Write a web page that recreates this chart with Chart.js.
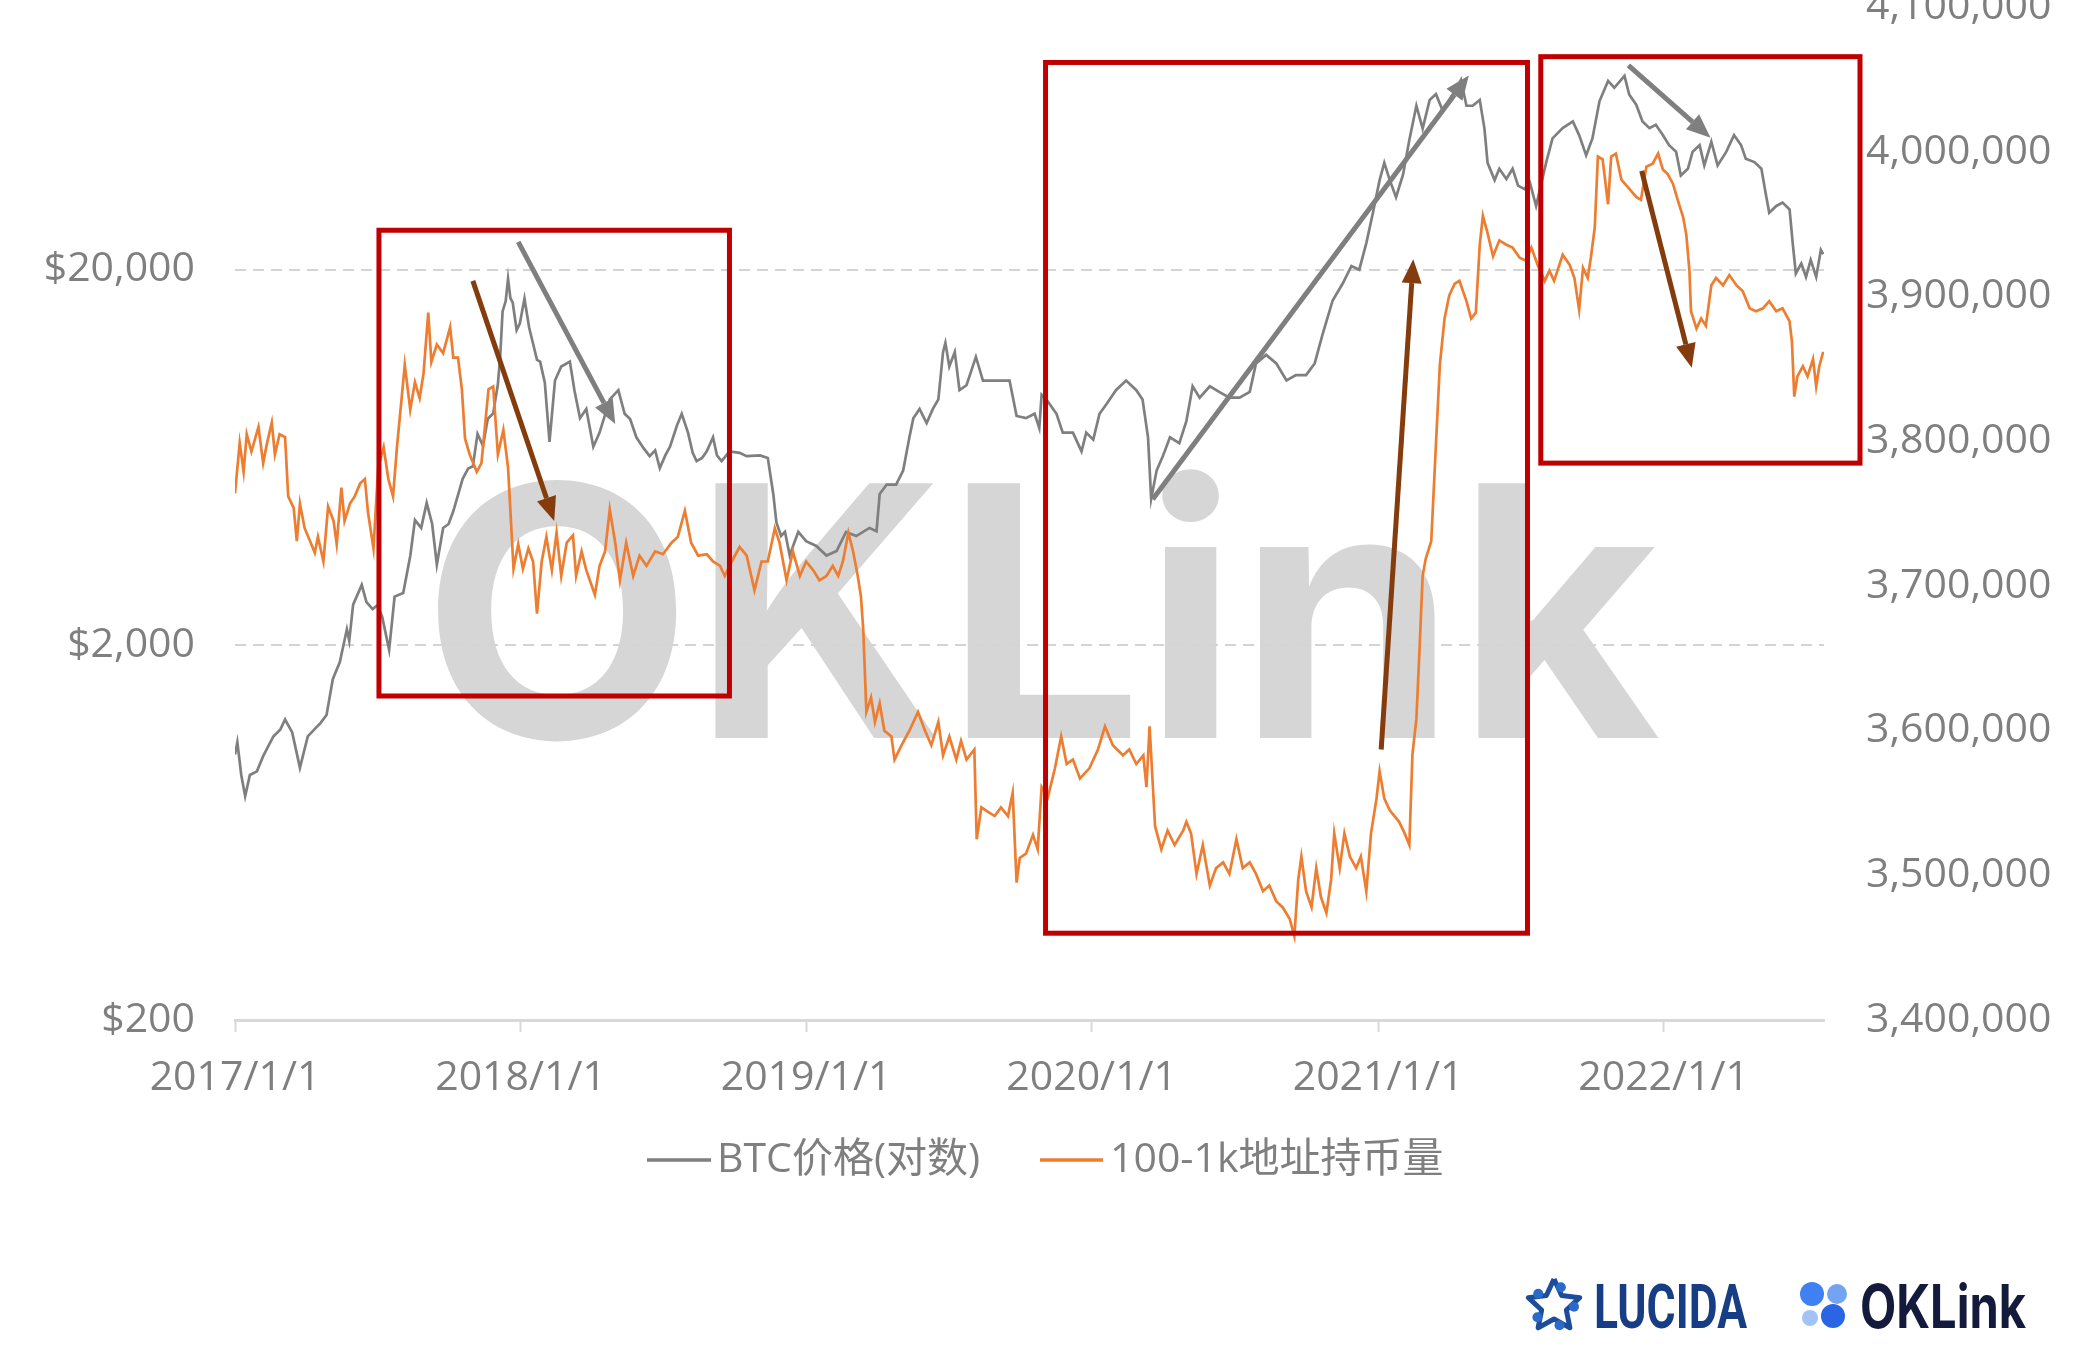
<!DOCTYPE html>
<html>
<head>
<meta charset="utf-8">
<title>BTC价格与100-1k地址持币量</title>
<script src="https://cdn.jsdelivr.net/npm/chart.js@4.4.0/dist/chart.umd.min.js"></script>
<style>
  html, body { margin: 0; padding: 0; background: #fff; overflow: hidden; }
  /* the source image is cropped at the top, so the canvas is pushed up a little */
  #wrap { position: absolute; left: 0; top: -40px; width: 2083px; height: 1410px; }
</style>
</head>
<body>
<div id="wrap"><canvas id="chart"></canvas></div>
<script>
(function () {
  'use strict';

  // x values are days since 2017-01-01
  const xTickDays = [0, 365, 730, 1095, 1461, 1826];
  const xTickLabels = ['2017/1/1', '2018/1/1', '2019/1/1', '2020/1/1', '2021/1/1', '2022/1/1'];
  const priceTicks = [200, 2000, 20000];
  const holdingTicks = [3400000, 3500000, 3600000, 3700000, 3800000, 3900000, 4000000, 4100000];

  // BTC price, USD (log axis) : [day, price]
  const btcPrice = [
    [0,1020],[3,1100],[8,900],[13,790],[19,900],[28,920],[36,1010],[49,1140],[58,1190],[64,1265],
    [73,1170],[78,1050],[83,940],[93,1140],[103,1200],[109,1235],[117,1300],[125,1620],[134,1800],
    [143,2200],[146,2050],[151,2560],[162,2890],[168,2600],[176,2490],[182,2550],[188,2380],[197,1940],
    [204,2690],[215,2750],[224,3450],[230,4300],[238,4100],[245,4780],[252,4200],[258,3270],[266,4100],
    [273,4200],[279,4540],[291,5540],[298,5900],[304,5980],[310,7300],[317,6790],[323,8000],[330,8280],
    [336,9900],[339,11760],[342,15480],[346,16500],[349,18920],[352,16800],[355,16330],[360,13800],
    [364,14360],[370,16740],[376,14000],[381,12700],[386,11500],[390,11380],[396,10000],[402,6950],
    [409,10130],[417,11040],[428,11380],[434,9500],[441,8040],[449,8510],[458,6750],[466,7360],[479,9020],
    [490,9550],[498,8260],[505,8000],[513,7150],[522,6700],[530,6370],[537,6600],[543,5920],[550,6400],
    [556,6750],[565,7700],[571,8260],[579,7360],[585,6500],[590,6180],[597,6300],[603,6560],[611,7150],
    [616,6400],[622,6180],[632,6560],[645,6500],[654,6370],[671,6400],[681,6300],[688,5050],[692,4240],
    [698,3900],[703,4000],[709,3460],[716,3800],[720,4000],[730,3780],[743,3670],[756,3460],[769,3560],
    [781,4000],[794,3900],[811,4100],[820,4020],[824,5050],[833,5350],[845,5350],[854,5830],[862,7150],
    [867,8040],[875,8510],[884,7800],[892,8510],[899,9020],[905,12060],[908,12770],[913,11040],[920,12060],
    [926,9550],[935,9840],[947,11710],[956,10130],[969,10130],[977,10130],[990,10130],[999,8150],
    [1011,8040],[1022,8260],[1028,7570],[1031,9280],[1037,9020],[1050,8260],[1058,7360],[1071,7360],
    [1082,6560],[1088,7360],[1097,7050],[1105,8260],[1114,8770],[1126,9550],[1139,10130],[1152,9550],
    [1160,9020],[1167,7150],[1171,4900],[1178,5830],[1186,6370],[1195,7150],[1207,6900],[1216,7900],
    [1220,8770],[1224,9780],[1233,9120],[1246,9780],[1258,9450],[1271,9120],[1284,9120],[1297,9450],
    [1305,11250],[1318,11860],[1331,11250],[1344,10130],[1356,10470],[1369,10470],[1380,11250],
    [1390,13420],[1403,16560],[1416,18400],[1427,20460],[1437,20000],[1446,23550],[1454,28060],
    [1463,34660],[1469,38540],[1476,34660],[1484,31200],[1493,35900],[1501,44360],[1510,54720],
    [1518,47560],[1527,56700],[1535,58760],[1544,52860],[1552,56700],[1561,60820],[1567,64130],
    [1574,54720],[1582,54720],[1591,56700],[1597,47560],[1601,38540],[1610,34660],[1616,37160],
    [1625,34910],[1633,37160],[1640,33500],[1648,32810],[1655,34200],[1663,29580],[1676,38720],
    [1684,44780],[1697,47680],[1710,49680],[1718,45700],[1727,40360],[1735,44780],[1744,56240],
    [1755,63720],[1763,61100],[1776,65700],[1782,58640],[1791,55080],[1799,49680],[1808,47680],
    [1816,48660],[1825,45700],[1833,42960],[1842,41220],[1848,35640],[1857,37160],[1863,41220],
    [1872,42960],[1878,37940],[1887,43860],[1895,37940],[1906,41220],[1916,45700],[1925,42960],
    [1931,39540],[1942,38720],[1951,37160],[1957,31480],[1961,28380],[1970,29580],[1978,30200],
    [1987,28950],[1991,23560],[1995,19540],[2002,20780],[2008,19140],[2014,21240],[2021,19140],
    [2027,22580],[2030,22000]
  ];

  // BTC held by 100-1k addresses : [day, amount]
  const holdings = [
    [0,3764000],[6,3799000],[11,3779000],[15,3805000],[21,3793000],[30,3810000],[36,3785000],[41,3799000],
    [47,3813000],[51,3791000],[57,3805000],[64,3803000],[68,3762000],[75,3754000],[79,3731000],[83,3757000],
    [89,3740000],[96,3731000],[102,3723000],[106,3734000],[113,3717000],[119,3755000],[126,3745000],
    [130,3729000],[136,3768000],[140,3745000],[147,3757000],[153,3762000],[160,3771000],[166,3774000],
    [170,3751000],[177,3726000],[183,3782000],[190,3796000],[196,3774000],[202,3762000],[207,3796000],
    [213,3830000],[217,3853000],[224,3822000],[230,3841000],[236,3830000],[241,3847000],[247,3889000],
    [251,3855000],[258,3867000],[266,3861000],[275,3879000],[279,3858000],[285,3858000],[290,3836000],
    [294,3802000],[300,3791000],[309,3779000],[315,3785000],[324,3836000],[330,3838000],[336,3791000],
    [343,3808000],[349,3782000],[356,3712000],[362,3729000],[368,3712000],[375,3726000],[381,3717000],
    [386,3681000],[392,3717000],[398,3734000],[405,3711000],[411,3737000],[417,3707000],[424,3730000],
    [432,3735000],[436,3707000],[443,3724000],[449,3711000],[460,3694000],[466,3714000],[473,3724000],
    [479,3753000],[486,3730000],[492,3704000],[500,3730000],[509,3707000],[517,3721000],[526,3714000],
    [537,3724000],[547,3722000],[558,3730000],[566,3734000],[575,3752000],[583,3730000],[592,3721000],
    [603,3722000],[611,3717000],[620,3714000],[626,3707000],[635,3717000],[645,3727000],[654,3721000],
    [664,3697000],[673,3717000],[681,3717000],[690,3740000],[696,3730000],[705,3704000],[713,3724000],
    [722,3707000],[730,3717000],[739,3711000],[747,3704000],[756,3707000],[764,3714000],[771,3707000],
    [777,3717000],[784,3737000],[790,3724000],[796,3707000],[800,3693000],[803,3670000],[807,3613000],
    [813,3623000],[818,3606000],[824,3619000],[830,3600000],[839,3596000],[843,3580000],[852,3590000],
    [862,3600000],[873,3613000],[882,3600000],[890,3590000],[899,3606000],[905,3583000],[913,3596000],
    [922,3580000],[928,3593000],[935,3580000],[945,3587000],[948,3525000],[954,3547000],[962,3544000],
    [971,3541000],[979,3547000],[988,3541000],[994,3557000],[999,3495000],[1003,3512000],[1011,3515000],
    [1020,3528000],[1026,3518000],[1031,3561000],[1039,3554000],[1048,3574000],[1056,3596000],
    [1063,3577000],[1071,3580000],[1080,3567000],[1092,3574000],[1103,3587000],[1112,3603000],
    [1122,3590000],[1135,3583000],[1143,3587000],[1152,3577000],[1161,3583000],[1165,3561000],
    [1169,3603000],[1176,3534000],[1184,3518000],[1192,3531000],[1201,3521000],[1212,3531000],
    [1216,3537000],[1222,3529000],[1229,3501000],[1237,3521000],[1246,3493000],[1254,3505000],
    [1263,3509000],[1271,3501000],[1280,3525000],[1288,3505000],[1297,3509000],[1305,3501000],
    [1314,3489000],[1322,3493000],[1331,3482000],[1339,3478000],[1348,3470000],[1354,3458000],
    [1359,3497000],[1363,3513000],[1369,3489000],[1376,3478000],[1382,3505000],[1388,3485000],
    [1395,3474000],[1401,3497000],[1405,3529000],[1412,3505000],[1418,3529000],[1425,3513000],
    [1433,3505000],[1439,3513000],[1446,3489000],[1452,3529000],[1459,3553000],[1463,3572000],
    [1469,3553000],[1476,3545000],[1482,3541000],[1488,3537000],[1495,3529000],[1501,3521000],
    [1505,3584000],[1510,3608000],[1514,3656000],[1518,3707000],[1522,3719000],[1529,3731000],
    [1535,3798000],[1540,3853000],[1546,3885000],[1552,3901000],[1559,3909000],[1565,3911000],
    [1574,3897000],[1580,3885000],[1586,3889000],[1591,3936000],[1595,3956000],[1601,3944000],
    [1608,3928000],[1616,3939000],[1625,3936000],[1633,3934000],[1642,3927000],[1650,3925000],
    [1657,3934000],[1665,3922000],[1674,3911000],[1680,3918000],[1686,3911000],[1697,3929000],
    [1706,3922000],[1712,3913000],[1718,3891000],[1723,3920000],[1729,3913000],[1733,3927000],
    [1738,3948000],[1742,3997000],[1748,3995000],[1755,3964000],[1759,3997000],[1765,3999000],
    [1772,3981000],[1780,3976000],[1791,3969000],[1797,3967000],[1804,3990000],[1812,3992000],
    [1819,3999000],[1825,3988000],[1831,3985000],[1838,3978000],[1844,3967000],[1851,3955000],
    [1855,3943000],[1859,3918000],[1861,3890000],[1868,3878000],[1874,3885000],[1880,3880000],
    [1887,3908000],[1893,3913000],[1902,3908000],[1910,3915000],[1919,3908000],[1927,3904000],
    [1936,3892000],[1944,3890000],[1953,3892000],[1961,3897000],[1970,3890000],[1978,3892000],
    [1987,3883000],[1990,3869000],[1993,3831000],[1997,3845000],[2004,3852000],[2010,3845000],
    [2017,3857000],[2021,3838000],[2025,3852000],[2030,3862000]
  ];

  // red highlight frames and trend arrows, in (day, holdings) units of the right axis
  const highlightBoxes = [
    { from: 184, to: 632, top: 3946000, bottom: 3624000 },
    { from: 1036, to: 1652, top: 4062000, bottom: 3460000 },
    { from: 1669, to: 2077, top: 4066000, bottom: 3785000 }
  ];
  const trendArrows = [
    { from: [362, 3938000], to: [486, 3812000], color: '#7f7f7f' },
    { from: [304, 3911000], to: [408, 3745000], color: '#843c0c' },
    { from: [1173, 3760000], to: [1577, 4053000], color: '#7f7f7f' },
    { from: [1465, 3587000], to: [1506, 3926000], color: '#843c0c' },
    { from: [1781, 4060000], to: [1886, 4010000], color: '#7f7f7f' },
    { from: [1798, 3987000], to: [1862, 3851000], color: '#843c0c' }
  ];

  const SHIFT = 40;          // canvas offset, see #wrap
  const GRAY = '#7f7f7f';
  const ORANGE = '#ed7d31';
  const LABEL = '#7f7f7f';
  const NONE = 'rgba(0,0,0,0)';
  const FONT = '"Open Sans", "Noto Sans CJK SC", sans-serif';

  function drawArrow(ctx, x1, y1, x2, y2, color) {
    const a = Math.atan2(y2 - y1, x2 - x1);
    const head = 24, half = 10;
    const bx = x2 - head * Math.cos(a), by = y2 - head * Math.sin(a);
    ctx.strokeStyle = color;
    ctx.lineWidth = 5;
    ctx.beginPath();
    ctx.moveTo(x1, y1);
    ctx.lineTo(bx, by);
    ctx.stroke();
    ctx.fillStyle = color;
    ctx.beginPath();
    ctx.moveTo(x2, y2);
    ctx.lineTo(bx + half * Math.sin(a), by - half * Math.cos(a));
    ctx.lineTo(bx - half * Math.sin(a), by + half * Math.cos(a));
    ctx.closePath();
    ctx.fill();
  }

  function fitText(ctx, text, font, x, baseline, width, color) {
    ctx.save();
    ctx.font = font;
    const w = ctx.measureText(text).width;
    ctx.translate(x, baseline);
    ctx.scale(width / w, 1);
    ctx.fillStyle = color;
    ctx.textBaseline = 'alphabetic';
    ctx.fillText(text, 0, 0);
    ctx.restore();
  }

  const decorations = {
    id: 'decorations',
    beforeDraw(chart) {
      const ctx = chart.ctx;
      ctx.save();
      ctx.fillStyle = '#ffffff';
      ctx.fillRect(0, 0, chart.width, chart.height);
      ctx.restore();
      // big watermark behind everything
      fitText(ctx, 'OKLink', 'bold 350px Inter, "Open Sans", sans-serif', 422, 738 + SHIFT, 1238, '#d6d6d6');
    },
    afterDatasetsDraw(chart) {
      const ctx = chart.ctx;
      const x = chart.scales.x, y = chart.scales.y2;
      ctx.save();
      ctx.strokeStyle = '#c00000';
      ctx.lineWidth = 5;
      highlightBoxes.forEach(function (b) {
        const x0 = x.getPixelForValue(b.from), x1 = x.getPixelForValue(b.to);
        const y0 = y.getPixelForValue(b.top), y1 = y.getPixelForValue(b.bottom);
        ctx.strokeRect(x0, y0, x1 - x0, y1 - y0);
      });
      trendArrows.forEach(function (a) {
        drawArrow(ctx,
          x.getPixelForValue(a.from[0]), y.getPixelForValue(a.from[1]),
          x.getPixelForValue(a.to[0]), y.getPixelForValue(a.to[1]), a.color);
      });
      ctx.restore();
    },
    afterDraw(chart) {
      const ctx = chart.ctx;
      const ly = 1160 + SHIFT;
      const items = [
        { ds: chart.data.datasets[0], x0: 647, x1: 711, tx: 717 },
        { ds: chart.data.datasets[1], x0: 1040, x1: 1103, tx: 1110 }
      ];
      ctx.save();
      items.forEach(function (it) {
        ctx.strokeStyle = it.ds.borderColor;
        ctx.lineWidth = 3.5;
        ctx.beginPath();
        ctx.moveTo(it.x0, ly);
        ctx.lineTo(it.x1, ly);
        ctx.stroke();
        ctx.fillStyle = LABEL;
        ctx.font = '41px ' + FONT;
        ctx.textBaseline = 'middle';
        ctx.fillText(it.ds.label, it.tx, ly);
      });

      // LUCIDA mark
      const cx = 1554, cy = 1306 + SHIFT;
      ctx.strokeStyle = '#1d4c9a';
      ctx.lineWidth = 5;
      ctx.lineJoin = 'round';
      ctx.beginPath();
      for (let k = 0; k <= 10; k++) {
        const r = k % 2 === 0 ? 27 : 13;
        const ang = -Math.PI / 2 + k * Math.PI / 5;
        const px = cx + r * Math.cos(ang), py = cy + r * Math.sin(ang);
        if (k === 0) ctx.moveTo(px, py); else ctx.lineTo(px, py);
      }
      ctx.stroke();
      ctx.fillStyle = '#2a6bc9';
      for (let k = 0; k < 5; k++) {
        const ang = -Math.PI / 2 + k * 2 * Math.PI / 5 + 0.35;
        ctx.beginPath();
        ctx.arc(cx + 20 * Math.cos(ang), cy + 20 * Math.sin(ang), 5, 0, Math.PI * 2);
        ctx.fill();
      }
      fitText(ctx, 'LUCIDA', 'bold 62px Roboto, sans-serif', 1594, 1328 + SHIFT, 153, '#173e84');

      // OKLink mark
      const dots = [[1812, 1294, 12, '#3f80f2'], [1837, 1294, 10, '#74a3f1'], [1810, 1318, 8, '#a3c2f6'], [1833, 1316, 12, '#2a66e3']];
      dots.forEach(function (d) {
        ctx.fillStyle = d[3];
        ctx.beginPath();
        ctx.arc(d[0], d[1] + SHIFT, d[2], 0, Math.PI * 2);
        ctx.fill();
      });
      fitText(ctx, 'OKLink', 'bold 60px Inter, sans-serif', 1860, 1328 + SHIFT, 166, '#141a3c');
      ctx.restore();
    }
  };

  function makeChart() {
    const ctx = document.getElementById('chart').getContext('2d');
    new Chart(ctx, {
      type: 'line',
      data: {
        datasets: [{
          label: 'BTC价格(对数)',
          data: btcPrice.map(function (p) { return { x: p[0], y: p[1] }; }),
          yAxisID: 'y',
          borderColor: GRAY,
          backgroundColor: GRAY,
          borderWidth: 2.7,
          pointRadius: 0,
          order: 2
        }, {
          label: '100-1k地址持币量',
          data: holdings.map(function (p) { return { x: p[0], y: p[1] }; }),
          yAxisID: 'y2',
          borderColor: ORANGE,
          backgroundColor: ORANGE,
          borderWidth: 2.7,
          pointRadius: 0,
          order: 1
        }]
      },
      options: {
        responsive: true,
        maintainAspectRatio: false,
        animation: false,
        layout: { padding: { top: 47.5, bottom: 250, left: 0, right: 0 } },
        plugins: {
          legend: { display: false },
          tooltip: { enabled: false }
        },
        scales: {
          x: {
            type: 'linear',
            min: 0,
            max: 2031,
            afterBuildTicks: function (s) { s.ticks = xTickDays.map(function (v) { return { value: v }; }); },
            afterFit: function (s) { s.height = 100; },
            grid: { drawOnChartArea: false, drawTicks: true, tickLength: 12, tickWidth: 2, tickColor: '#d9d9d9' },
            border: { display: true, color: '#d9d9d9', width: 3 },
            ticks: {
              autoSkip: false,
              maxRotation: 0,
              padding: 22,
              color: LABEL,
              font: { family: FONT, size: 41 },
              callback: function (v, i) { return xTickLabels[i]; }
            }
          },
          y: {
            type: 'logarithmic',
            position: 'left',
            min: 200,
            max: 100000,
            afterBuildTicks: function (s) { s.ticks = priceTicks.map(function (v) { return { value: v }; }); },
            afterFit: function (s) { s.width = 235; },
            // invisible tick marks carry the label gap, so the labels add no extra top padding
            grid: {
              drawTicks: true,
              tickLength: 40,
              tickColor: NONE,
              lineWidth: 2,
              color: function (c) { return c.tick && c.tick.value === 200 ? NONE : '#d4d4d4'; }
            },
            border: { display: false, dash: [11, 7] },
            ticks: {
              padding: 0,
              color: LABEL,
              font: { family: FONT, size: 41 },
              callback: function (v) { return '$' + Number(v).toLocaleString('en-US'); }
            }
          },
          y2: {
            type: 'linear',
            position: 'right',
            min: 3400000,
            max: 4100000,
            afterBuildTicks: function (s) { s.ticks = holdingTicks.map(function (v) { return { value: v }; }); },
            afterFit: function (s) { s.width = 259; },
            grid: { display: true, drawOnChartArea: false, drawTicks: true, tickLength: 42, tickColor: NONE },
            border: { display: false },
            ticks: {
              padding: 0,
              color: LABEL,
              font: { family: FONT, size: 41 },
              callback: function (v) { return Number(v).toLocaleString('en-US'); }
            }
          }
        }
      },
      plugins: [decorations]
    });
  }

  if (document.fonts && document.fonts.load) {
    Promise.all([
      document.fonts.load('41px "Open Sans"'),
      document.fonts.load('bold 350px Inter'),
      document.fonts.load('41px "Noto Sans CJK SC"')
    ]).then(makeChart, makeChart);
  } else {
    makeChart();
  }
})();
</script>
</body>
</html>
